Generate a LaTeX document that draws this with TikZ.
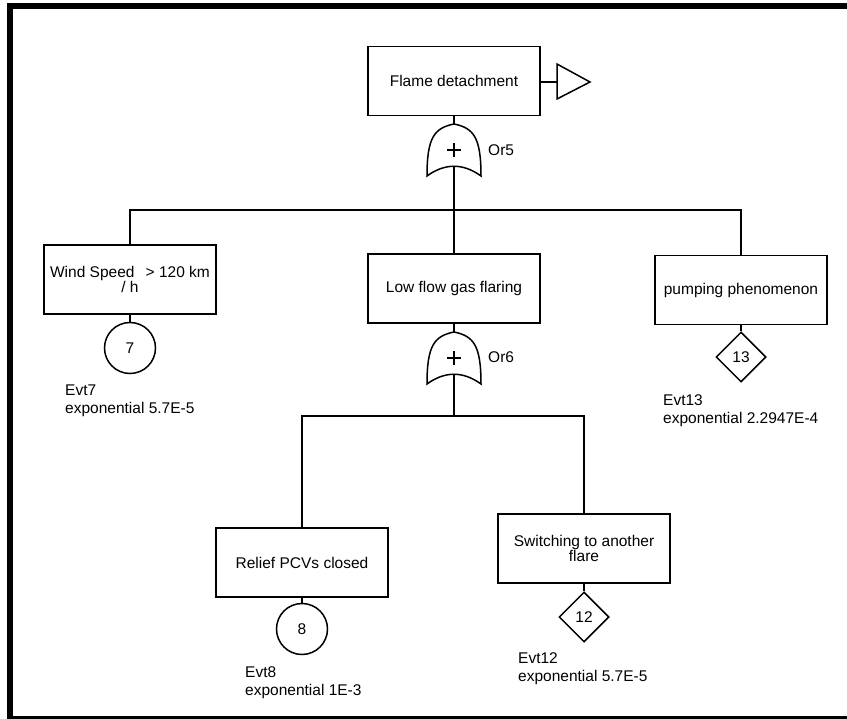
\documentclass[tikz,border=0pt]{standalone}
\usepackage{fontspec}
\setmainfont{Liberation Sans}
\usetikzlibrary{shapes.geometric}

\tikzset{
  every node/.style={font=\fontsize{15.5}{15.5}\selectfont},
  wire/.style={line width=1.5pt, line join=miter},
  eventbox/.style={draw, line width=1.5pt, rectangle, minimum width=172pt,
    minimum height=69pt, inner sep=0pt, align=center},
  basic/.style={draw, line width=1.5pt, circle, minimum size=51pt, inner sep=0pt},
  undev/.style={draw, line width=1.5pt, diamond, minimum width=50pt,
    minimum height=50pt, inner sep=0pt},
  evlabel/.style={anchor=north west, inner sep=0pt, align=left,
    font=\fontsize{15.5}{18}\selectfont},
  gatelabel/.style={anchor=west, inner sep=0pt},
  orgate/.pic={
    \draw[wire] (0,0) .. controls (-20,4) and (-27,14) .. (-27,52)
      .. controls (-9,39) and (9,39) .. (27,52)
      .. controls (27,14) and (20,4) .. cycle;
    \draw[wire] (-7,26) -- (7,26) (0,19) -- (0,33);
    \coordinate (-in) at (0,0);
    \coordinate (-out) at (0,42);
  }
}

\begin{document}
\begin{tikzpicture}[x=1pt, y=-1pt]
\useasboundingbox (0,0) rectangle (847,719);

% frame
\fill (7,3) rectangle (847,9);
\fill (7,3) rectangle (13,719);
\fill (7,716) rectangle (847,719);

% top event and transfer symbol
\node[eventbox] (top) at (454,81) {Flame detachment};
\coordinate (tri) at (557,82);
\draw[wire] (top.east |- tri) -- (tri);
\draw[wire] (557,64) -- (590,82) -- (557,99) -- cycle;

% first OR gate
\pic (g5) at (454,124) {orgate};
\node[gatelabel] (or5) at (488,150) {Or5};

% second level
\node[eventbox] (wind) at (130,279.5) {Wind Speed\ \ \,> 120 km\\/ h};
\node[eventbox] (low) at (454,288.5) {Low flow gas flaring};
\node[eventbox] (pump) at (741,290) {pumping phenomenon};
\coordinate (bar1) at (454,210);

\draw[wire] (top.south) -- (g5-in);
\draw[wire] (g5-out) -- (low.north);
\draw[wire] (wind.north) |- (bar1) -| (pump.north);

% basic / undeveloped events of second level
\node[basic] (e7) at (130,348) {7};
\node[undev] (e13) at (741,357) {13};
\draw[wire] (wind.south) -- (e7.north);
\draw[wire] (pump.south) -- (e13.north);
\node[evlabel] (l7) at (65,384.5) {Evt7\\exponential 5.7E-5};
\node[evlabel] (l13) at (663,394.5) {Evt13\\exponential 2.2947E-4};

% second OR gate
\pic (g6) at (454,332) {orgate};
\node[gatelabel] (or6) at (488,357) {Or6};
\draw[wire] (low.south) -- (g6-in);

% third level
\node[eventbox] (relief) at (302,562.5) {Relief PCVs closed};
\node[eventbox] (switch) at (584,548.5) {Switching to another\\flare};
\coordinate (bar2) at (454,416);
\draw[wire] (g6-out) -- (bar2);
\draw[wire] (relief.north) |- (bar2) -| (switch.north);

\node[basic] (e8) at (302,629) {8};
\node[undev] (e12) at (584,617) {12};
\draw[wire] (relief.south) -- (e8.north);
\draw[wire] (switch.south) -- (e12.north);
\node[evlabel] (l8) at (245,666.5) {Evt8\\exponential 1E-3};
\node[evlabel] (l12) at (518,652.5) {Evt12\\exponential 5.7E-5};
\end{tikzpicture}
\end{document}
